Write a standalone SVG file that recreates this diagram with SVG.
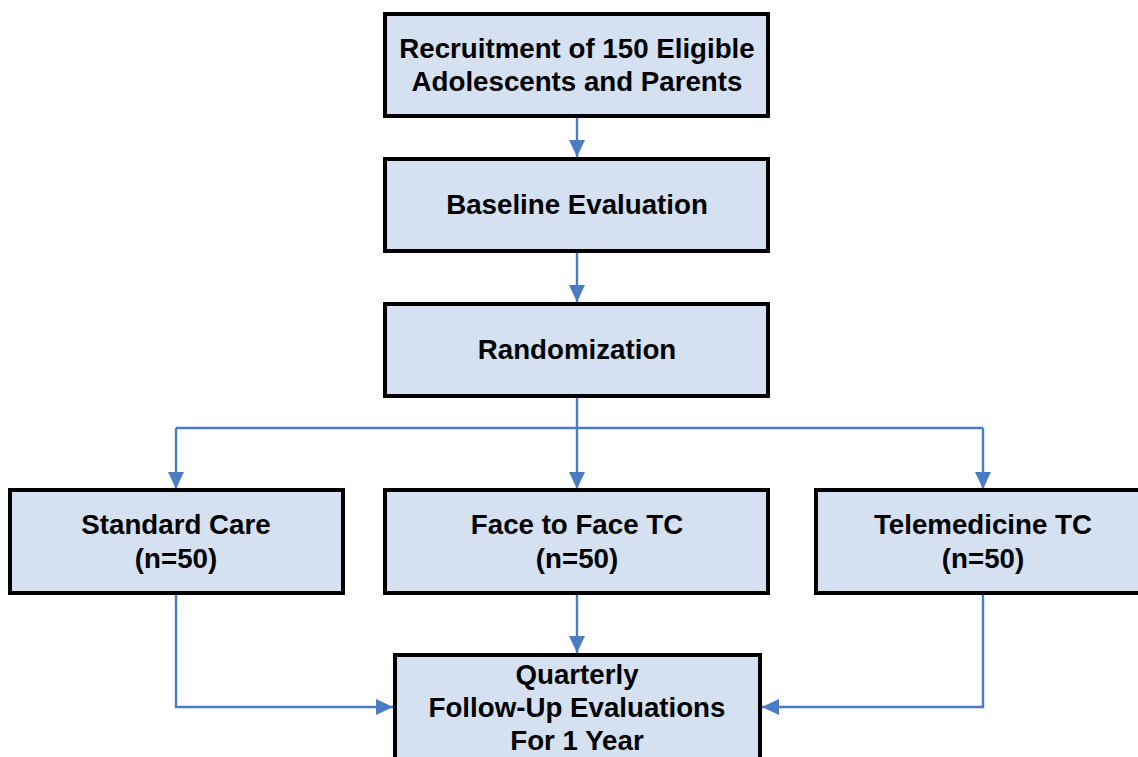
<svg xmlns="http://www.w3.org/2000/svg" width="1138" height="757" viewBox="0 0 1138 757">
<style>
.box{fill:#d5e0f1;stroke:#000;stroke-width:4}
.t{font-family:"Liberation Sans",Arial,sans-serif;font-weight:bold;font-size:27.7px;fill:#000;text-anchor:middle}
.c{fill:none;stroke:#4a7cc4;stroke-width:2.4}
</style>
<defs>
<marker id="ah" viewBox="0 0 17 16" refX="17" refY="8" markerWidth="17" markerHeight="16" markerUnits="userSpaceOnUse" orient="auto">
<path d="M0,0 L17,8 L0,16 Z" fill="#4a7cc4"/>
</marker>
</defs>
<rect width="1138" height="757" fill="#fff"/>
<g id="connectors">
<path class="c" d="M577,118 V157" marker-end="url(#ah)"/>
<path class="c" d="M577,252 V302" marker-end="url(#ah)"/>
<path class="c" d="M577,397 V489" marker-end="url(#ah)"/>
<path class="c" d="M176,428 H983"/>
<path class="c" d="M176,428 V489" marker-end="url(#ah)"/>
<path class="c" d="M983,428 V489" marker-end="url(#ah)"/>
<path class="c" d="M577,595 V653" marker-end="url(#ah)"/>
<path class="c" d="M176,595 V707 H393" marker-end="url(#ah)"/>
<path class="c" d="M983,595 V707 H762" marker-end="url(#ah)"/>
</g>
<g id="recruitment">
<rect class="box" x="385" y="14" width="383" height="102"/>
<text class="t" x="577" y="58">Recruitment of 150 Eligible</text>
<text class="t" x="577" y="91">Adolescents and Parents</text>
</g>
<g id="baseline">
<rect class="box" x="385" y="159" width="383" height="92"/>
<text class="t" x="577" y="214">Baseline Evaluation</text>
</g>
<g id="randomization">
<rect class="box" x="385" y="304" width="383" height="92"/>
<text class="t" x="577" y="359">Randomization</text>
</g>
<g id="standard">
<rect class="box" x="10" y="490" width="333" height="103"/>
<text class="t" x="176" y="534">Standard Care</text>
<text class="t" x="176" y="568">(n=50)</text>
</g>
<g id="face">
<rect class="box" x="385" y="490" width="383" height="103"/>
<text class="t" x="577" y="534">Face to Face TC</text>
<text class="t" x="577" y="568">(n=50)</text>
</g>
<g id="telemedicine">
<rect class="box" x="816" y="490" width="330" height="103"/>
<text class="t" x="983" y="534">Telemedicine TC</text>
<text class="t" x="983" y="568">(n=50)</text>
</g>
<g id="followup">
<rect class="box" x="395" y="655" width="365" height="110"/>
<text class="t" x="577" y="684">Quarterly</text>
<text class="t" x="577" y="717">Follow-Up Evaluations</text>
<text class="t" x="577" y="750">For 1 Year</text>
</g>
</svg>
